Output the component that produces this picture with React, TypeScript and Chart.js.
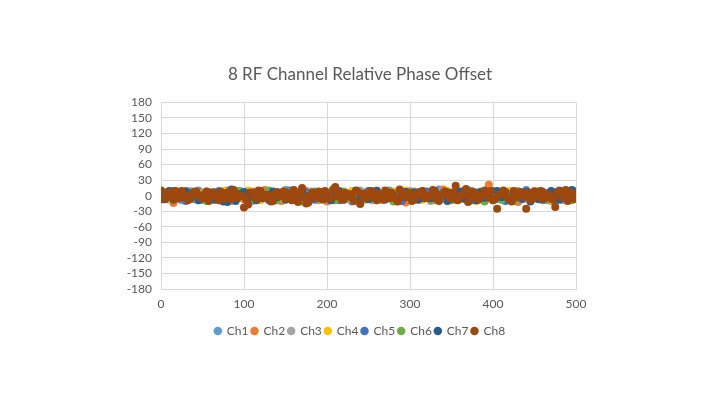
import React, { useEffect, useRef } from "react";
import { Chart, registerables } from "chart.js";

Chart.register(...registerables);

const TITLE = "8 RF Channel Relative Phase Offset";
const SERIES_NAMES = ["Ch1", "Ch2", "Ch3", "Ch4", "Ch5", "Ch6", "Ch7", "Ch8"];
const COLORS = ["#5B9BD5", "#ED7D31", "#A5A5A5", "#FFC000", "#4472C4", "#70AD47", "#255E91", "#9E480E"];

const X_VALUES = [
  0, 5, 10, 15, 20, 25, 30, 35, 40, 45,
  50, 55, 60, 65, 70, 75, 80, 85, 90, 95,
  100, 105, 110, 115, 120, 125, 130, 135, 140, 145,
  150, 155, 160, 165, 170, 175, 180, 185, 190, 195,
  200, 205, 210, 215, 220, 225, 230, 235, 240, 245,
  250, 255, 260, 265, 270, 275, 280, 285, 290, 295,
  300, 305, 310, 315, 320, 325, 330, 335, 340, 345,
  350, 355, 360, 365, 370, 375, 380, 385, 390, 395,
  400, 405, 410, 415, 420, 425, 430, 435, 440, 445,
  450, 455, 460, 465, 470, 475, 480, 485, 490, 495,
  500,
];

// extra in-between samples of Ch8 (the top-most series)
const X_HALF = [
  2.5, 7.5, 12.5, 17.5, 22.5, 27.5, 32.5, 37.5, 42.5, 47.5,
  52.5, 57.5, 62.5, 67.5, 72.5, 77.5, 82.5, 87.5, 92.5, 97.5,
  102.5, 107.5, 112.5, 117.5, 122.5, 127.5, 132.5, 137.5, 142.5, 147.5,
  152.5, 157.5, 162.5, 167.5, 172.5, 177.5, 182.5, 187.5, 192.5, 197.5,
  202.5, 207.5, 212.5, 217.5, 222.5, 227.5, 232.5, 237.5, 242.5, 247.5,
  252.5, 257.5, 262.5, 267.5, 272.5, 277.5, 282.5, 287.5, 292.5, 297.5,
  302.5, 307.5, 312.5, 317.5, 322.5, 327.5, 332.5, 337.5, 342.5, 347.5,
  352.5, 357.5, 362.5, 367.5, 372.5, 377.5, 382.5, 387.5, 392.5, 397.5,
  402.5, 407.5, 412.5, 417.5, 422.5, 427.5, 432.5, 437.5, 442.5, 447.5,
  452.5, 457.5, 462.5, 467.5, 472.5, 477.5, 482.5, 487.5, 492.5, 497.5,
];

const CH1 = [
  3, -5, 8, -2, 6, -9, 1, 4, -7, 10,
  -3, 2, -6, 7, -1, 5, -8, 3, 9, -4,
  0, 6, -10, 2, -5, 8, -2, 4, -7, 1,
  11, -6, 3, -3, 7, -9, 2, 5, -1, -8,
  6, 0, -4, 9, -2, 3, -11, 5, 1, -6,
  8, -3, 2, -7, 4, 10, -5, 0, 6, -2,
  -9, 3, 7, -4, 1, -8, 5, 12, -3, 2,
  -6, 4, -1, 8, -10, 3, 0, -5, 7, -2,
  9, -7, 1, 4, -3, 6, -8, 2, 11, -4,
  0, 5, -9, 3, -2, 7, -6, 1, 8, -3,
  4,
];
const CH2 = [
  -4, 7, 2, -14, 5, -1, 9, -6, 3, -8,
  6, -2, -9, 4, 1, -5, 10, -3, 7, 0,
  -7, 3, 8, -4, -1, 11, -6, 2, 5, -10,
  1, -3, 6, -8, 4, 9, -2, -5, 3, 7,
  -11, 2, 5, -1, 8, -6, 0, 4, -9, 6,
  3, -7, 10, -2, -4, 7, 1, -8, 5, -13,
  2, 8, -5, 0, 6, -3, -9, 4, 12, -1,
  -6, 5, -2, 9, -8, 3, 1, -4, 7, 21,
  -5, 8, -1, 3, -7, 6, -12, 2, 4, -3,
  9, -6, 0, 5, -10, 2, 7, -4, 1, -8,
  6,
];
const CH3 = [
  5, -3, -8, 6, 2, -6, 4, 9, -2, -5,
  1, 8, -4, -7, 3, 6, -1, -10, 5, 2,
  -3, 7, 0, -6, 9, -2, 4, -8, 1, 6,
  -5, 3, 10, -1, -7, 2, 8, -4, -9, 5,
  0, -3, 7, 4, -8, 1, 6, -2, 10, -6,
  2, -9, 5, -1, 3, 8, -5, 0, -7, 4,
  9, -2, -6, 1, 5, -10, 3, 7, -4, 0,
  6, -8, 2, -3, 11, -1, 4, -6, 8, -2,
  -9, 3, 1, 7, -5, -2, 9, -7, 0, 5,
  -4, 2, 8, -6, 3, -1, 6, -9, 4, -2,
  7,
];
const CH4 = [
  -2, 6, -7, 3, 8, -1, -5, 2, 7, -9,
  4, -1, 5, -6, 2, 9, -3, -8, 1, 6,
  -4, 10, -2, 5, -9, 0, 7, -3, 3, -6,
  8, -5, 1, -2, 6, -10, 4, 2, -7, 3,
  5, -8, -1, 7, 3, -4, 9, -6, 0, 2,
  -3, 6, -9, 4, 1, -5, 8, -2, -7, 10,
  0, -4, 3, -8, 7, 2, -1, -6, 5, 9,
  -2, 1, -7, 6, 4, -3, -10, 8, 0, -5,
  3, -1, 6, -4, 9, -8, 2, 5, -6, 1,
  7, -3, -5, 2, -9, 4, 0, 6, -2, -7,
  3,
];
const CH5 = [
  7, -4, 1, 9, -6, 3, -10, 5, 0, -3,
  -8, 4, 6, -2, 9, -5, 2, -7, 3, 8,
  -1, -6, 4, 7, -3, 1, -9, 6, -4, 2,
  5, 10, -7, 0, -3, 6, -2, -8, 4, 1,
  -6, 7, 2, -9, 5, -1, 3, 8, -4, -2,
  9, -5, 0, 3, -8, 6, -1, 4, -10, 7,
  -3, 5, -7, 2, 8, -2, -5, 1, 6, -9,
  4, -1, 7, -4, 2, -9, 6, 3, -6, 0,
  8, -5, 4, -10, 1, 6, -3, -7, 9, 2,
  -4, 6, 1, -8, 5, -2, 10, -5, 3, -1,
  -6,
];
const CH6 = [
  -6, 2, 5, -9, 1, 7, -4, -1, 8, -3,
  3, -10, -2, 6, -5, 1, 4, -7, -2, 9,
  5, -3, -8, 1, 6, -4, 10, -1, -9, 3,
  -2, 7, -5, 4, -11, 2, -6, 8, 0, -4,
  6, -1, -9, 3, 7, -5, 1, -3, 5, -8,
  -4, 9, -2, -7, 6, 0, -11, 5, 3, -1,
  7, -6, 2, 9, -3, -8, 4, 0, -5, 6,
  -9, 3, 5, -1, -6, 8, -2, 4, -11, 2,
  1, -3, -8, 5, 2, -10, 4, 7, -1, -5,
  -2, 8, -4, -7, 1, -11, 3, -2, 6, -9,
  0,
];
const CH7 = [
  4, -7, 9, -1, 5, -3, 8, -6, 2, -9,
  -2, 5, 1, -8, 6, -11, -12, 12, -10, 3,
  7, -5, 2, -9, 4, 1, -6, 8, -3, 5,
  -8, 2, 6, -4, 9, -1, -7, 3, 5, -2,
  1, -9, 4, 8, -5, 2, -3, 10, -6, 0,
  -7, 3, 9, -2, -6, 5, 1, -9, 4, 7,
  -1, 6, -8, 3, 0, -5, 9, -3, 2, -10,
  5, -2, 8, -6, 1, 4, -9, 7, -4, 3,
  -6, 9, -3, 1, -8, 5, 2, -5, 7, -11,
  3, -7, 6, -1, 9, -4, -8, 2, 5, 11,
  8,
];
const CH8 = [
  10, -4, 6, -8, 3, 9, -2, -6, 7, 1,
  -5, 8, -3, 5, -9, 2, 6, -7, 4, -1,
  -23, -17, 5, -6, 9, -3, 1, -10, 7, 3,
  -6, 4, 11, -12, 15, -15, 2, -4, 8, -7,
  3, -5, 17, 6, -8, 1, -3, 9, -16, 4,
  -2, 7, -9, 3, 10, -5, 0, -11, 6, -3,
  5, -8, 2, 9, -4, -1, 7, -10, 3, 6,
  -6, 19, -2, 4, -12, 8, -5, 1, 10, -4,
  -9, -25, 3, 7, -6, 9, -3, 5, -25, -8,
  8, -2, -7, 4, -5, -22, 9, 2, -10, 6,
  -3,
];
const CH8_HALF = [
  -7, 5, -2, 9, -5, 1, -9, 4, 8, -3,
  2, -10, 6, -1, 7, -6, 3, 11, -4, 0,
  -8, 6, -2, 10, -5, 2, -11, 4, -1, 8,
  5, -9, 1, 7, -3, -13, 6, 2, -6, 9,
  -4, 12, -1, -7, 5, 3, -10, 7, 0, -5,
  9, -3, 4, -8, 1, 6, -6, 12, -2, 5,
  -10, 3, 7, -5, 0, 11, -7, 2, 8, -4,
  6, -9, 1, 13, -3, 5, -8, 4, -1, 9,
  -6, 2, 10, -4, -11, 3, 7, -2, 6, -7,
  1, 9, -5, 3, -8, 6, -3, 11, -1, -6,
];

const SERIES = [CH1, CH2, CH3, CH4, CH5, CH6, CH7, CH8];

const Y_MIN = -180;
const Y_MAX = 180;
const Y_STEP = 30;
const X_MIN = 0;
const X_MAX = 500;
const X_STEP = 100;

const FONT = "Lato, 'Open Sans', sans-serif";
const TEXT = "#595959";
const GRID = "#D9D9D9";

export default function App() {
  const ref = useRef<HTMLCanvasElement | null>(null);

  useEffect(() => {
    if (!ref.current) return;
    const n = SERIES.length;
    const datasets = SERIES.map((vals, i) => {
      const pts = vals.map((v, j) => ({ x: X_VALUES[j], y: v }));
      if (i === n - 1) {
        CH8_HALF.forEach((v, j) => pts.push({ x: X_HALF[j], y: v }));
      }
      return {
        label: SERIES_NAMES[i],
        data: pts,
        backgroundColor: COLORS[i],
        borderColor: COLORS[i],
        pointRadius: 4,
        pointBorderWidth: 0,
        pointHoverRadius: 4,
        showLine: false,
        order: n - 1 - i,
      };
    });
    const chart = new Chart(ref.current, {
      type: "scatter",
      data: { datasets },
      options: {
        animation: false,
        responsive: false,
        maintainAspectRatio: false,
        layout: { padding: { left: 20, right: 20, top: 0, bottom: 57 } },
        plugins: {
          title: {
            display: true,
            text: TITLE,
            color: TEXT,
            font: { family: FONT, size: 17, weight: "normal" },
            padding: { top: 64, bottom: 18 },
          },
          legend: {
            display: true,
            position: "bottom",
            labels: {
              color: TEXT,
              font: { family: FONT, size: 12 },
              usePointStyle: true,
              pointStyle: "circle",
              boxWidth: 6,
              boxHeight: 6,
              padding: 3,
              sort: (a: any, b: any) => a.datasetIndex - b.datasetIndex,
            },
          },
          tooltip: { enabled: false },
        },
        scales: {
          x: {
            type: "linear",
            min: X_MIN,
            max: X_MAX,
            ticks: { stepSize: X_STEP, color: TEXT, font: { family: FONT, size: 12 }, padding: 8, autoSkip: false },
            grid: { color: GRID, drawTicks: false },
            border: { color: GRID },
            afterFit: (s: any) => { s.height = 33; },
          },
          y: {
            type: "linear",
            min: Y_MIN,
            max: Y_MAX,
            ticks: { stepSize: Y_STEP, color: TEXT, font: { family: FONT, size: 12 }, padding: 9, autoSkip: false },
            grid: { color: GRID, drawTicks: false },
            border: { color: GRID },
            afterFit: (s: any) => { s.width = 141; },
          },
          yR: {
            type: "linear",
            position: "right",
            min: Y_MIN,
            max: Y_MAX,
            ticks: { display: false },
            grid: { display: false, drawTicks: false },
            border: { display: false },
            afterFit: (s: any) => { s.width = 124; },
          },
        },
      },
    } as any);
    return () => chart.destroy();
  }, []);

  return (
    <div style={{ position: "fixed", left: 0, top: 0, width: 720, height: 404, background: "#fff" }}>
      <canvas ref={ref} width={720} height={404} />
    </div>
  );
}
